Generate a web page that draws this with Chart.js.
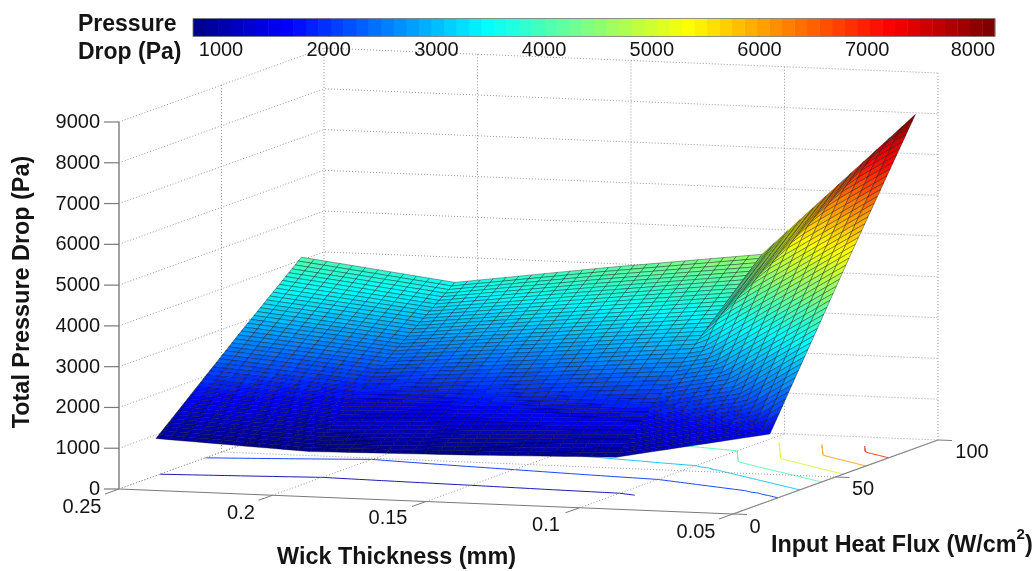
<!DOCTYPE html>
<html><head><meta charset="utf-8">
<style>html,body{margin:0;padding:0;background:#fff}#wrap{position:absolute;left:0;top:0;width:1035px;height:571px}canvas{filter:blur(0.45px)}</style>
<script src="https://cdn.jsdelivr.net/npm/chart.js@4"></script>
</head><body><div id="wrap"><canvas id="c" width="1035" height="571"></canvas></div>
<script>
// ---- data ----
const thicknessKnots = [0.25, 0.2, 0.15, 0.1, 0.05];
const fluxKnots = [18, 58, 89];
const pressureAtFlux18 = [910, 745, 815, 914, 1635];
const pressureAtFlux58 = [2716, 2394, 2707, 3060, 5378];
const pressureAtFlux89 = [4070, 3605, 4126, 4600, 8185];
const pressureRows = [pressureAtFlux18, pressureAtFlux58, pressureAtFlux89];
const pressureTicks = [0,1000,2000,3000,4000,5000,6000,7000,8000,9000];
const thicknessTicks = [0.25,0.2,0.15,0.1,0.05];
const fluxTicks = [0,50,100];
const colorbarTicks = [1000,2000,3000,4000,5000,6000,7000,8000];
const contourLevels = [1000,2000,3000,4000,5000,6000,7000];
const colorMin = 740, colorMax = 8185;
const tSteps = 48, fSteps = 46;

// ---- view: orthographic 3-D projection onto the chart's scales ----
function project(t,f,z){
  const a=(0.25-t)/0.2, b=f/100;
  return {x:119+614*a+205*b, y:489+25*a-74*b-z/9000*367};
}
function jet(v){
  const clamp=x=>Math.max(0,Math.min(1,x));
  const i=Math.max(0,Math.min(63,Math.floor(v*64)));
  const u=(i+1)/64;
  const r=clamp(Math.min(4*u-1.5,-4*u+4.5)),g=clamp(Math.min(4*u-0.5,-4*u+3.5)),b=clamp(Math.min(4*u+0.5,-4*u+2.5));
  return `rgb(${Math.round(r*255)},${Math.round(g*255)},${Math.round(b*255)})`;
}
const norm=z=>(z-colorMin)/(colorMax-colorMin);
// surface between the knots of the read table; the steep thin-wick panel folds along a diagonal
function surf(t,f){
  const i=Math.min(3,Math.floor((0.25-t)/0.05+1e-9));
  let j=f<58?0:1;
  const s=(0.25-t)/0.05-i, u=(f-fluxKnots[j])/(fluxKnots[j+1]-fluxKnots[j]);
  const z00=pressureRows[j][i],z10=pressureRows[j][i+1],z01=pressureRows[j+1][i],z11=pressureRows[j+1][i+1];
  if(i<3) return z00*(1-s)*(1-u)+z10*s*(1-u)+z01*(1-s)*u+z11*s*u;
  if(j===0){
    if(s+u<1) return z00+(z10-z00)*s+(z01-z00)*u;
    return z11+(z01-z11)*(1-s)+(z10-z11)*(1-u);
  }
  if(u>s) return z00+(z01-z00)*u+(z11-z01)*s;
  return z00+(z10-z00)*s+(z11-z10)*u;
}
const tMesh=[],fMesh=[];
for(let i=0;i<=tSteps;i++)tMesh.push(0.25-0.2*i/tSteps);
for(let j=0;j<=fSteps;j++)fMesh.push(18+71*j/fSteps);
const meshPts=[];
fMesh.forEach(f=>tMesh.forEach(t=>{const z=surf(t,f);const p=project(t,f,z);meshPts.push({x:p.x,y:p.y,z});}));

const datasets=[];
datasets.push({label:'Total Pressure Drop',data:meshPts,pointRadius:0,showLine:false,borderWidth:0});
function line(pts,color,width,dash,label){
  datasets.push({label:label||'',data:pts,showLine:true,borderColor:color,borderWidth:width,borderDash:dash||[],pointRadius:0,fill:false,tension:0,spanGaps:false,borderCapStyle:'butt'});
}
const GRID='#9a9a9a',DOT=[1,2],AX='#7a7a7a';
// walls + floor grid
pressureTicks.forEach(z=>{
  line([project(0.25,0,z),project(0.25,100,z),project(0.05,100,z)],GRID,1,DOT);
});
line([project(0.25,50,0),project(0.25,50,9000)],GRID,1,DOT);
thicknessTicks.forEach(t=>{
  line([project(t,100,0),project(t,100,9000)],GRID,1,DOT);
  line([project(t,0,0),project(t,100,0)],GRID,1,DOT);
});
line([project(0.25,50,0),project(0.05,50,0)],GRID,1,DOT);
// axes
line([project(0.25,0,0),project(0.25,0,9000)],AX,1.4);
line([project(0.25,0,0),project(0.05,0,0)],AX,1.2);
line([project(0.05,0,0),project(0.05,100,0)],AX,1.2);
pressureTicks.forEach(z=>{const p=project(0.25,0,z);line([{x:p.x-15,y:p.y},p],AX,1.2);});
thicknessTicks.forEach(t=>{const p=project(t,0,0);line([{x:p.x-14,y:p.y+5},p],AX,1);});
fluxTicks.forEach(f=>{const p=project(0.05,f,0);line([p,{x:p.x+14,y:p.y+0.5}],AX,1);});
// floor contours (marched on the same surface)
contourLevels.forEach(level=>{
  const pts=[];
  const cross=(A,B)=>{if((A.z-level)*(B.z-level)>=0)return null;const s=(level-A.z)/(B.z-A.z);return {t:A.t+(B.t-A.t)*s,f:A.f+(B.f-A.f)*s};};
  const tri=(A,B,C)=>{const c=[cross(A,B),cross(B,C),cross(C,A)].filter(Boolean);if(c.length===2){pts.push(project(c[0].t,c[0].f,0),project(c[1].t,c[1].f,0),{x:NaN,y:NaN});}};
  const ts=[];for(let i=0;i<=40;i++)ts.push(0.25-0.2*i/40);
  const fs=[];for(let j=0;j<=71;j++)fs.push(18+j);
  for(let j=0;j<71;j++)for(let i=0;i<40;i++){
    const P=(ii,jj)=>({t:ts[ii],f:fs[jj],z:surf(ts[ii],fs[jj])});
    tri(P(i,j),P(i+1,j),P(i+1,j+1));tri(P(i,j),P(i,j+1),P(i+1,j+1));
  }
  line(pts,jet(norm(level)),0.9,[], 'contour '+level);
});
// colour bar
const barX=v=>221+(v-1000)*0.1077, barY=27.5;
for(let k=0;k<64;k++){
  const v0=colorMin+(colorMax-colorMin)*k/64,v1=colorMin+(colorMax-colorMin)*(k+1)/64;
  line([{x:barX(v0),y:barY},{x:barX(v1)+0.5,y:barY}],jet((k+0.5)/64),18);
}
colorbarTicks.forEach(v=>line([{x:barX(v),y:barY-9},{x:barX(v),y:barY+9}],'rgba(30,30,30,.75)',1));

const FONT='"Liberation Sans", Arial, sans-serif';
const painter={id:'painter',afterDatasetsDraw(chart){
  const ctx=chart.ctx,sx=chart.scales.x,sy=chart.scales.y;
  const el=chart.getDatasetMeta(0).data, nT=tSteps+1;
  ctx.save();
  // surface, back to front
  ctx.lineWidth=0.5;ctx.strokeStyle='rgba(0,0,0,.72)';ctx.lineJoin='round';
  for(let j=fSteps-1;j>=0;j--)for(let i=0;i<tSteps;i++){
    const q=[j*nT+i,j*nT+i+1,(j+1)*nT+i+1,(j+1)*nT+i];
    const z=q.reduce((s,k)=>s+meshPts[k].z,0)/4;
    ctx.beginPath();
    q.forEach((k,n)=>{const e=el[k];n?ctx.lineTo(e.x,e.y):ctx.moveTo(e.x,e.y);});
    ctx.closePath();ctx.fillStyle=jet(norm(z));ctx.fill();ctx.stroke();
  }
  // bar outline
  ctx.strokeStyle='#777';ctx.lineWidth=0.8;
  ctx.strokeRect(sx.getPixelForValue(barX(colorMin)),sy.getPixelForValue(barY-9),barX(colorMax)-barX(colorMin),18);
  // texts
  ctx.fillStyle='#141414';ctx.textBaseline='middle';
  ctx.font='20px '+FONT;
  ctx.textAlign='right';
  pressureTicks.forEach(z=>{const p=project(0.25,0,z);ctx.fillText(String(z),100,sy.getPixelForValue(p.y)+0.5);});
  ctx.textAlign='center';
  const tPos=[[82,507],[241,513],[388,518],[546,525],[696,532]];
  thicknessTicks.forEach((t,i)=>ctx.fillText(String(t),tPos[i][0],tPos[i][1]));
  const fPos=[[755,527],[863,489],[972,452]];
  fluxTicks.forEach((f,i)=>ctx.fillText(String(f),fPos[i][0],fPos[i][1]));
  colorbarTicks.forEach(v=>ctx.fillText(String(v),sx.getPixelForValue(barX(v))-(v===8000?2:0),50));
  ctx.font='bold 23.4px '+FONT;
  ctx.fillText('Wick Thickness (mm)',396.5,558);
  ctx.textAlign='left';
  const s1='Input Heat Flux (W/cm';
  ctx.fillText(s1,771,546);
  const w=ctx.measureText(s1).width;
  ctx.font='bold 15px '+FONT;ctx.fillText('2',771+w,535);
  const w2=ctx.measureText('2').width;
  ctx.font='bold 23.4px '+FONT;ctx.fillText(')',771+w+w2,546);
  ctx.font='bold 23px '+FONT;
  ctx.fillText('Pressure',78,25);ctx.fillText('Drop (Pa)',78,53);
  ctx.translate(23,292);ctx.rotate(-Math.PI/2);ctx.textAlign='center';
  ctx.font='bold 23.4px '+FONT;
  ctx.fillText('Total Pressure Drop (Pa)',0,0);
  ctx.restore();
}};
new Chart(document.getElementById('c'),{
  type:'scatter',
  data:{datasets},
  options:{responsive:false,animation:false,events:[],
    layout:{padding:0},
    plugins:{legend:{display:false},tooltip:{enabled:false},title:{display:false}},
    scales:{
      x:{type:'linear',min:0,max:1035,display:false},
      y:{type:'linear',min:0,max:571,reverse:true,display:false}
    }},
  plugins:[painter]
});
</script></body></html>
